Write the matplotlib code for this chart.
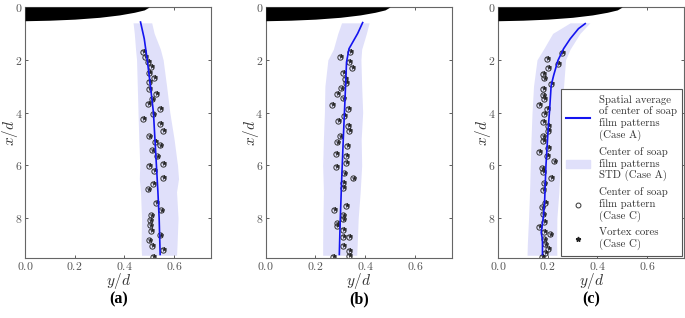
import numpy as np
import matplotlib
matplotlib.use('Agg')
import matplotlib.pyplot as plt
from matplotlib.lines import Line2D
from matplotlib.patches import Patch

plt.rcParams['font.family'] = 'cmr10'
plt.rcParams['mathtext.fontset'] = 'cm'
plt.rcParams['axes.formatter.use_mathtext'] = True

# body (leading edge) outline
body_y = [0.0, 0.1, 0.2, 0.3, 0.38, 0.44, 0.48, 0.5]
body_x = [0.52, 0.5, 0.46, 0.39, 0.3, 0.2, 0.11, 0.0]

x_ticks = [0.0, 0.2, 0.4, 0.6]
x_ticklabels = ['0.0', '0.2', '0.4', '0.6']
y_ticks = [0, 2, 4, 6, 8]
y_ticklabels = ['0', '2', '4', '6', '8']

# (a) spatial average line, STD band, soap film centres
a_line_x = [0.57, 1.2, 2.0, 3.0, 4.0, 5.0, 6.0, 7.0, 8.0, 9.37]
a_line_y = [0.465, 0.48, 0.492, 0.505, 0.517, 0.523, 0.529, 0.535, 0.54, 0.544]
a_band_x = [0.6, 1.0, 1.6, 2.0, 3.0, 4.0, 5.0, 6.0, 6.5, 7.0, 8.0, 9.0, 9.4]
a_band_lo = [0.435, 0.44, 0.445, 0.449, 0.452, 0.455, 0.458, 0.462, 0.46, 0.465, 0.469, 0.467, 0.469]
a_band_hi = [0.51, 0.52, 0.545, 0.556, 0.57, 0.583, 0.6, 0.614, 0.618, 0.61, 0.616, 0.612, 0.61]
a_pts_y = [0.475, 0.482, 0.496, 0.509, 0.498, 0.518, 0.499, 0.498, 0.529, 0.513, 0.496, 0.545,
           0.516, 0.475, 0.542, 0.556, 0.498, 0.523, 0.545, 0.513, 0.532, 0.556, 0.498, 0.518,
           0.556, 0.516, 0.496, 0.529, 0.548, 0.506, 0.505, 0.505, 0.509, 0.542, 0.501, 0.512,
           0.556, 0.516]
a_pts_x = [1.70, 1.89, 2.08, 2.27, 2.50, 2.69, 2.84, 3.09, 3.28, 3.50, 3.66, 3.85,
           4.07, 4.23, 4.42, 4.70, 4.90, 5.11, 5.24, 5.43, 5.66, 5.93, 6.02, 6.21,
           6.46, 6.69, 6.91, 7.42, 7.70, 7.89, 8.08, 8.27, 8.48, 8.65, 8.84, 9.05,
           9.19, 9.47]

# (b)
b_line_x = [0.59, 1.0, 1.58, 2.09, 3.48, 5.0, 6.65, 8.29, 9.37]
b_line_y = [0.39, 0.37, 0.335, 0.325, 0.319, 0.312, 0.305, 0.299, 0.296]
b_band_x = [0.6, 1.0, 1.6, 2.0, 3.0, 4.0, 5.0, 6.0, 7.0, 8.0, 9.0, 9.4]
b_band_lo = [0.305, 0.29, 0.272, 0.25, 0.238, 0.236, 0.232, 0.229, 0.232, 0.23, 0.229, 0.229]
b_band_hi = [0.416, 0.405, 0.386, 0.383, 0.386, 0.39, 0.384, 0.386, 0.38, 0.372, 0.368, 0.366]
b_pts_y = [0.341, 0.299, 0.335, 0.347, 0.312, 0.319, 0.323, 0.303, 0.288, 0.312, 0.268, 0.332,
           0.315, 0.292, 0.332, 0.335, 0.299, 0.285, 0.327, 0.282, 0.323, 0.323, 0.282, 0.316,
           0.350, 0.312, 0.309, 0.323, 0.276, 0.312, 0.312, 0.288, 0.288, 0.312, 0.309, 0.335,
           0.312, 0.335, 0.335, 0.272]
b_pts_x = [1.71, 1.90, 2.09, 2.32, 2.49, 2.72, 2.87, 3.08, 3.29, 3.46, 3.70, 3.86,
           4.11, 4.30, 4.49, 4.68, 4.90, 5.13, 5.25, 5.57, 5.63, 5.89, 6.05, 6.30,
           6.49, 6.65, 6.84, 7.53, 7.68, 7.89, 8.04, 8.19, 8.29, 8.44, 8.70, 8.70,
           9.05, 9.24, 9.41, 9.46]

# (c)
c_line_x = [0.63, 0.82, 1.2, 1.58, 2.03, 2.59, 2.97, 3.86, 4.75, 6.01, 7.28, 7.91, 8.54, 8.8, 9.37]
c_line_y = [0.351, 0.324, 0.291, 0.264, 0.241, 0.224, 0.214, 0.208, 0.201, 0.193, 0.188, 0.183,
            0.174, 0.179, 0.179]
c_band_x = [0.6, 1.0, 1.6, 2.0, 3.0, 4.0, 5.0, 6.0, 7.0, 8.0, 9.0, 9.4]
c_band_lo = [0.29, 0.22, 0.183, 0.157, 0.143, 0.137, 0.133, 0.13, 0.127, 0.123, 0.118, 0.117]
c_band_hi = [0.37, 0.33, 0.29, 0.272, 0.264, 0.257, 0.252, 0.25, 0.245, 0.237, 0.236, 0.237]
c_pts_y = [0.257, 0.197, 0.240, 0.203, 0.182, 0.187, 0.212, 0.180, 0.181, 0.187, 0.167, 0.197,
           0.187, 0.180, 0.201, 0.201, 0.180, 0.180, 0.200, 0.167, 0.197, 0.224, 0.177, 0.183,
           0.214, 0.187, 0.183, 0.190, 0.177, 0.183, 0.185, 0.167, 0.187, 0.210, 0.187, 0.190,
           0.201, 0.190, 0.179]
c_pts_x = [1.73, 1.96, 2.15, 2.30, 2.53, 2.70, 2.91, 3.10, 3.35, 3.48, 3.71, 3.86,
           4.05, 4.34, 4.49, 4.68, 4.90, 5.06, 5.32, 5.48, 5.63, 5.85, 6.11, 6.24,
           6.48, 6.68, 6.92, 7.43, 7.59, 7.85, 8.14, 8.33, 8.51, 8.61, 8.80, 8.99,
           9.15, 9.30, 9.46]

panels = [
    ('(a)', a_line_x, a_line_y, a_band_x, a_band_lo, a_band_hi, a_pts_x, a_pts_y),
    ('(b)', b_line_x, b_line_y, b_band_x, b_band_lo, b_band_hi, b_pts_x, b_pts_y),
    ('(c)', c_line_x, c_line_y, c_band_x, c_band_lo, c_band_hi, c_pts_x, c_pts_y),
]

band_color = '#e0e0fa'
line_color = '#1414f0'
fig = plt.figure(figsize=(6.85, 3.18), dpi=100)
lefts = [0.0365, 0.388, 0.727]

for left, (tag, lx, ly, bx, blo, bhi, px, py) in zip(lefts, panels):
    ax = fig.add_axes([left, 0.189, 0.272, 0.789])
    ax.fill_betweenx(body_x, 0, body_y, color='black', lw=0, zorder=4)
    ax.fill_betweenx(bx, blo, bhi, color=band_color, lw=0, zorder=1)
    ax.plot(ly, lx, color=line_color, lw=1.2, zorder=3)
    ax.plot(py, px, 'o', mfc='none', mec='#333333', ms=3.8, mew=0.7, zorder=2)
    ax.plot(np.array(py) + 0.004, np.array(px) - 0.03, '*', color='#222222', ms=3.5, mew=0.3,
            zorder=2)
    ax.set_xlim(0, 0.75)
    ax.set_ylim(9.5, 0)
    ax.set_xticks(x_ticks)
    ax.set_xticklabels(['$%s$' % s for s in x_ticklabels])
    ax.set_yticks(y_ticks)
    ax.set_yticklabels(['$%s$' % s for s in y_ticklabels])
    ax.tick_params(direction='in', top=True, right=True, labelsize=8.5, length=2.5,
                   width=0.6, pad=2, colors='#444444', labelcolor='#555555')
    ax.tick_params(axis='x', pad=1.5)
    for s in ax.spines.values():
        s.set_color('#666666')
        s.set_linewidth(0.8)
    ax.set_xlabel('$y/d$', fontsize=11, color='#333333')
    ax.set_ylabel('$x/d$', fontsize=11, color='#333333')
    ax.xaxis.set_label_coords(0.5, -0.053)
    ax.yaxis.set_label_coords(-0.025, 0.5)
    fig.text(left + 0.136, 0.058, tag, ha='center', va='center', fontsize=11.5,
             fontweight='bold', family='Liberation Serif')

handles = [
    Line2D([], [], color=line_color, lw=1.5),
    Patch(color=band_color),
    Line2D([], [], ls='none', marker='o', mfc='none', mec='#333333', ms=3.5, mew=0.7),
    Line2D([], [], ls='none', marker='*', color='#222222', ms=3.5),
]
labels = [
    'Spatial average\nof center of soap\nfilm patterns\n(Case A)',
    'Center of soap\nfilm patterns\nSTD (Case A)',
    'Center of soap\nfilm pattern\n(Case C)',
    'Vortex cores\n(Case C)',
]
leg = ax.legend(handles, labels, loc='lower right', fontsize=7.8, fancybox=False,
                framealpha=1, edgecolor='#555555', borderaxespad=0.2, handlelength=2.2,
                labelspacing=0.55, borderpad=0.5, handletextpad=0.8)
leg.get_frame().set_linewidth(0.8)
for t in leg.get_texts():
    t.set_color('#333333')

fig.savefig('out.png', dpi=100)
